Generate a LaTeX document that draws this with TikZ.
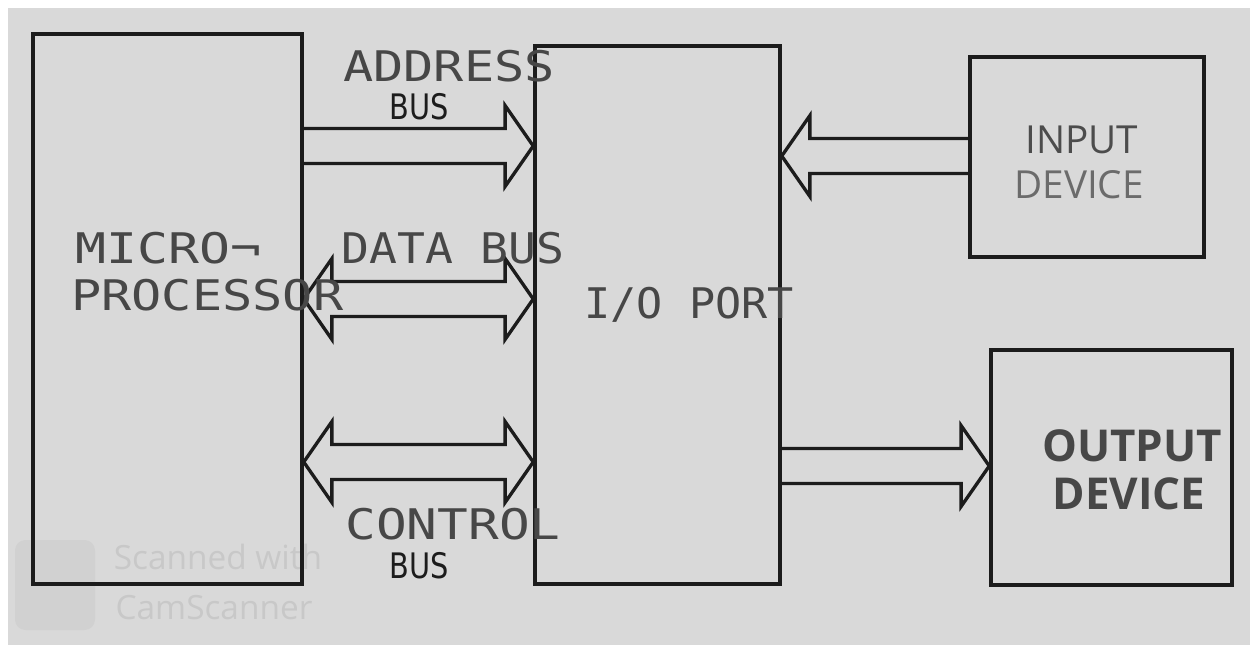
\documentclass[tikz,border=0pt]{standalone}
\usepackage{fontspec}
\usepackage{graphicx}
\usetikzlibrary{fit,calc}

\newfontfamily\lblfont{DejaVu Sans Mono}
\newfontfamily\devfont{Open Sans}
\newfontfamily\handfont{DejaVu Sans}

\definecolor{paper}{HTML}{D9D9D9}
\definecolor{ink}{HTML}{1C1C1C}
\definecolor{lblgray}{HTML}{474747}
\definecolor{markgray}{HTML}{C8C8C8}

\newcommand{\busshaft}{10pt}
\newcommand{\buswide}{23pt}
\newcommand{\bushead}{16pt}

% hollow bus arrow, tail to tip
\newcommand{\busone}[2]{%
  \draw[busline] let \p1=(#1), \p2=(#2), \p3=($(#2)!\bushead!(#1)$) in
    (\x1,\y1+\busshaft) -- (\x3,\y1+\busshaft) -- (\x3,\y1+\buswide) -- (\x2,\y2)
    -- (\x3,\y1-\buswide) -- (\x3,\y1-\busshaft) -- (\x1,\y1-\busshaft);}
% hollow bus arrow with a head at both ends
\newcommand{\bustwo}[2]{%
  \draw[busline] let \p1=(#1), \p2=(#2), \p3=($(#1)!\bushead!(#2)$), \p4=($(#2)!\bushead!(#1)$) in
    (\x1,\y1) -- (\x3,\y1+\buswide) -- (\x3,\y1+\busshaft) -- (\x4,\y1+\busshaft)
    -- (\x4,\y1+\buswide) -- (\x2,\y2) -- (\x4,\y1-\buswide) -- (\x4,\y1-\busshaft)
    -- (\x3,\y1-\busshaft) -- (\x3,\y1-\buswide) -- cycle;}

\tikzset{
  blockbox/.style={draw=ink, line width=2pt, inner sep=0pt},
  busline/.style={draw=ink, line width=1.9pt, line join=miter},
  buslbl/.style={inner sep=0pt, text=lblgray, font=\lblfont\fontsize{24}{27}\selectfont},
  handlbl/.style={inner sep=0pt, text=ink, font=\handfont\fontsize{20}{24}\selectfont},
  devlbl/.style={inner sep=0pt, font=\devfont\fontsize{22}{24}\selectfont},
}

\begin{document}
\begin{tikzpicture}[x=0.02cm, y=-0.02cm]
\fill[white] (0,0) rectangle (1250,645);
\fill[paper] (8,8) rectangle (1250,645);
\useasboundingbox (0,0) rectangle (1250,645);

% scanner watermark
\fill[markgray!50!paper, rounded corners=6pt] (15,540) rectangle (95,630);
\node[inner sep=0pt, text=markgray, font=\devfont\fontsize{19}{21}\selectfont] (mark1) at (218,557) {Scanned with};
\node[inner sep=0pt, text=markgray, font=\devfont\fontsize{19}{21}\selectfont] (mark2) at (214,608) {CamScanner};

\node[blockbox, fit={(33,34) (302,584)}] (micro) {};
\node[blockbox, fit={(535,46) (780,584)}] (io) {};
\node[blockbox, fit={(970,57) (1204,257)}] (input) {};
\node[blockbox, fit={(991,350) (1232,585)}] (output) {};

\coordinate (addr) at (0,146);
\coordinate (data) at (0,299);
\coordinate (ctrl) at (0,462);
\coordinate (inbus) at (0,156);
\coordinate (outbus) at (0,466);

\busone{micro.east |- addr}{io.west |- addr}
\bustwo{micro.east |- data}{io.west |- data}
\bustwo{micro.east |- ctrl}{io.west |- ctrl}
\busone{input.west |- inbus}{io.east |- inbus}
\busone{io.east |- outbus}{output.west |- outbus}

\node[buslbl] (addrlbl) at (449,66) {\scalebox{1.19}[1]{ADDRESS}};
\node[handlbl] (addrbus) at (419,107) {\scalebox{0.82}[1]{BUS}};
\node[buslbl, anchor=west] (microlbl) at (75,248) {\scalebox{1.22}[1]{MICRO¬}};
\node[buslbl, anchor=west] (proclbl) at (71,295) {\scalebox{1.19}[1]{PROCESSOR}};
\node[buslbl] (datalbl) at (453,248) {\scalebox{1.1}[1]{DATA BUS}};
\node[buslbl] (iolbl) at (689,305) {\scalebox{1.03}[1]{I/O PORT}};
\node[buslbl] (ctrllbl) at (453,524) {\scalebox{1.21}[1]{CONTROL}};
\node[handlbl] (ctrlbus) at (419,566) {\scalebox{0.82}[1]{BUS}};

\node[devlbl, text=black!70] (inlbl) at (1082,140) {INPUT};
\node[devlbl, text=black!58] (indev) at (1079,185) {DEVICE};
\node[devlbl, text=lblgray, font=\devfont\bfseries\fontsize{25}{28}\selectfont] (outlbl) at (1132,446) {OUTPUT};
\node[devlbl, text=lblgray, font=\devfont\bfseries\fontsize{25}{28}\selectfont] (outdev) at (1129,494) {DEVICE};
\end{tikzpicture}
\end{document}
